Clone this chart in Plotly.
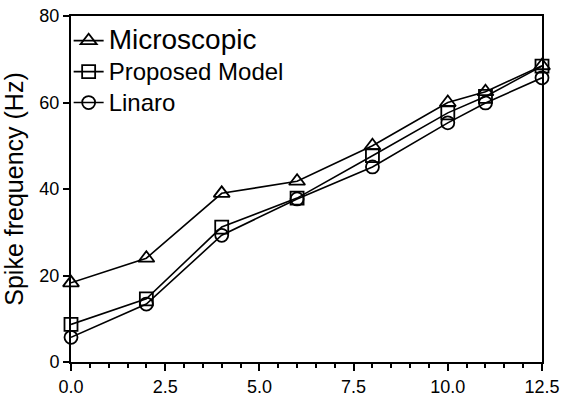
import plotly.graph_objects as go

x_vals = [0, 2, 4, 6, 8, 10, 11, 12.5]
microscopic = [18.3, 24.0, 39.0, 41.8, 50.0, 60.0, 62.5, 68.5]
proposed = [8.7, 14.6, 31.2, 37.9, 47.7, 57.6, 61.4, 68.4]
linaro = [5.7, 13.4, 29.3, 37.7, 45.1, 55.3, 59.9, 65.7]

names = ['<span style="font-size:28px">Microscopic</span>',
         '<span style="font-size:24px">Proposed Model</span>',
         '<span style="font-size:24px">Linaro</span>']
symbols = ["triangle-up-open", "square-open", "circle-open"]
series = [microscopic, proposed, linaro]
sizes = [14, 13, 13]

fig = go.Figure()
for nm, sym, ys, sz in zip(names, symbols, series, sizes):
    fig.add_trace(go.Scatter(
        x=x_vals, y=ys, name=nm, mode="lines+markers",
        line=dict(color="black", width=1.6),
        marker=dict(symbol=sym, size=sz, color="black", line=dict(width=1.8, color="black")),
        cliponaxis=False,
    ))

fig.update_layout(
    width=565, height=399,
    margin=dict(l=71, r=23, t=16, b=37),
    paper_bgcolor="white", plot_bgcolor="white",
    font=dict(family="Liberation Sans, Arial, sans-serif", color="black"),
    showlegend=True,
    legend=dict(x=-0.005, y=0.988, xanchor="left", yanchor="top",
                font=dict(size=21.5, color="black"), bgcolor="rgba(0,0,0,0)",
                tracegroupgap=0, itemwidth=30),
)
fig.update_xaxes(
    range=[0, 12.5], tickvals=[0, 2.5, 5, 7.5, 10, 12.5],
    ticktext=["0.0", "2.5", "5.0", "7.5", "10.0", "12.5"],
    showgrid=False, zeroline=False, showline=True, linecolor="black", linewidth=2,
    mirror=True, ticks="outside", ticklen=7, tickwidth=2, tickcolor="black",
    tickfont=dict(size=18), automargin=False,
    minor=dict(dtick=0.5, tick0=0, ticks="outside", ticklen=4, tickwidth=2, tickcolor="black"),
)
fig.update_yaxes(
    range=[0, 80], tickvals=[0, 20, 40, 60, 80],
    showgrid=False, zeroline=False, showline=True, linecolor="black", linewidth=2,
    mirror=True, ticks="outside", ticklen=6, tickwidth=2, tickcolor="black",
    tickfont=dict(size=18), automargin=False,
    title=dict(text="Spike frequency (Hz)", font=dict(size=25)),
)

fig.write_html("out.html")
